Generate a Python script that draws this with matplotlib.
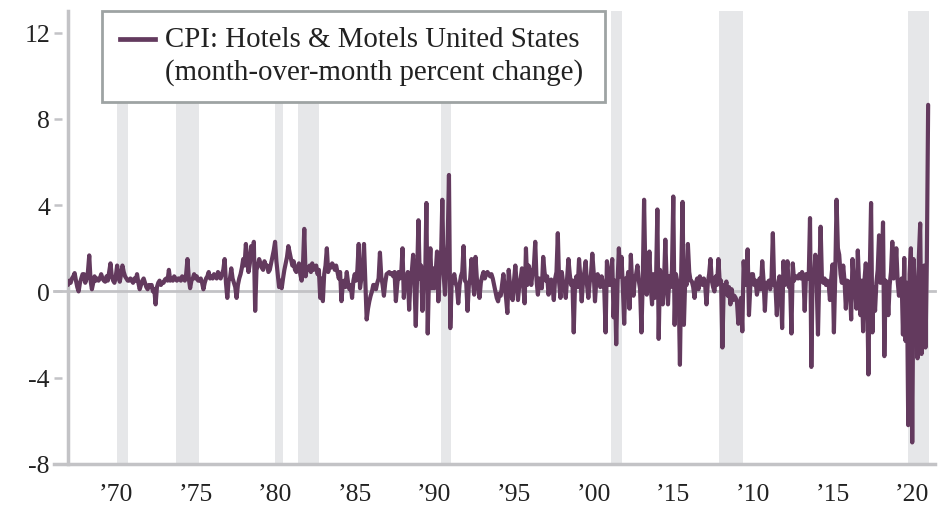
import numpy as np
import matplotlib.pyplot as plt
from matplotlib.patches import Rectangle
from matplotlib.lines import Line2D

plt.rcParams['font.family'] = ['Liberation Serif', 'DejaVu Serif']

# monthly % change, CPI hotels & motels, starting Jan 1967
mom_1960s = [
    0.3, 0.5, 0.4, 0.6, 0.7, 0.85, 0.5, 0.2, 0.0, 0.4, 0.6, 0.8,
    0.8, 0.4, 0.6, 0.9, 1.67, 0.5, 0.1, 0.4, 0.7, 0.5, 0.6, 0.5,
    0.6, 0.8, 0.6, 0.5, 0.45, 0.7, 0.5, 0.9, 1.3, 0.7, 0.5, 0.4,
]
mom_1970s = [
    0.7, 1.2, 0.7, 0.45, 0.8, 1.2, 0.9, 0.7, 0.6, 0.5, 0.5, 0.6,
    0.5, 0.4, 0.6, 0.5, 0.8, 0.4, 0.1, 0.3, 0.5, 0.6, 0.4, 0.2,
    0.1, 0.3, 0.2, 0.3, 0.0, 0.1, -0.6, 0.2, 0.4, 0.5, 0.3, 0.4,
    0.4, 0.55, 0.6, 0.5, 1.0, 0.5, 0.6, 0.5, 0.7, 0.6, 0.5, 0.6,
    0.6, 0.5, 0.7, 0.6, 0.5, 0.8, 1.5, 0.6, 0.15, 0.5, 0.6, 0.8,
    0.6, 0.7, 0.5, 0.5, 0.6, 0.4, 0.1, 0.4, 0.6, 0.7, 0.9, 0.6,
    0.7, 0.6, 0.8, 0.7, 0.6, 0.9, 0.7, 0.6, 0.8, 1.0, 1.5, 0.4,
    -0.3, 0.5, 0.6, 1.07, 0.6, 0.4, 0.2, -0.3, 0.3, 0.6, 0.8, 1.1,
    1.5, 1.2, 2.2, 1.4, 0.9, 1.3, 2.1, 1.6, 2.3, -0.9, 1.0, 1.2,
    1.5, 1.3, 1.1, 1.0, 1.4, 1.2, 1.2, 0.9, 1.0, 1.3, 1.6, 1.9,
]
mom_1980s = [
    2.3, 1.4, 0.8, 0.2, 0.5, 0.15, 0.6, 1.0, 1.3, 1.6, 2.1, 1.8,
    1.5, 1.2, 1.4, 1.0, 0.9, 1.1, 1.3, 0.8, 0.5, 1.2, 2.9, 0.7,
    1.1, 1.0, 1.2, 0.9, 1.3, 1.0, 1.1, 1.2, 0.8, 1.0, -0.3, 0.6,
    -0.45, 0.8, 1.2, 2.0, 0.9, 1.2, 1.1, 1.3, 1.2, 1.0, 1.2, 0.9,
    0.6, 0.9, -0.45, 0.3, 0.5, 0.2, 0.9, 0.4, 0.1, 0.3, -0.3, 0.5,
    0.8, 0.5, 1.0, 2.2, 0.15, 0.6, 0.9, 2.2, 0.4, -1.3, -0.8, -0.46,
    -0.2, 0.0, 0.3, 0.3, 0.1, 0.4, 0.6, 1.8, 0.7, 0.3, -0.2, 0.4,
    0.8, 0.85, 0.9, 0.8, 0.85, 0.7, 0.9, -0.45, 0.3, 0.9, 0.6, 0.8,
    2.0, -0.3, 0.6, 0.4, 0.9, -0.85, 0.5, 0.9, 1.7, 0.4, -1.6, 0.7,
    3.3, 0.6, 1.2, -0.9, 1.0, 0.3, 4.1, -1.95, 0.8, 2.0, 0.15, 1.07,
]
mom_1990s = [
    0.15, 0.9, 1.85, -0.46, 1.0, 1.5, 4.25, 0.8, -0.15, 1.2, 2.2, 5.4,
    -1.7, 0.3, 0.5, 0.8, 0.4, 0.2, -0.55, 0.3, 0.7, 0.9, 2.1, 0.5,
    0.4, -0.9, 0.3, 0.6, 1.5, 0.5, -0.15, 1.6, 0.6, 0.2, -0.3, 0.4,
    0.7, 0.9, 0.6, 0.8, 0.9, 0.8, 0.7, 0.8, 0.6, 0.3, 0.0, -0.3,
    -0.46, -0.1, -0.2, 0.3, 0.8, 0.2, -0.3, -1.0, 1.0, 0.3, -0.2, -0.4,
    0.5, 1.2, 0.4, -0.4, 0.3, 0.6, 1.07, 0.2, -0.55, 2.0, 0.3, 1.2,
    0.8, 0.3, 0.9, 1.2, 2.3, 0.5, -0.15, 0.6, 0.3, 0.15, 1.6, 0.9,
    0.5, 0.7, -0.15, 0.3, 0.55, 0.2, -0.4, 0.6, 0.9, 2.7, 0.4, -0.3,
    0.9, 0.4, 0.2, -0.3, 0.6, 1.5, 0.8, 0.3, 0.5, -1.9, 0.4, 0.7,
    0.2, 1.5, 0.6, -0.46, 0.5, 0.9, 1.4, 0.3, -0.3, 0.4, 0.8, 1.75,
]
mom_2000s = [
    0.9, -0.46, 0.5, 0.8, 0.46, 0.2, 0.7, 0.4, 0.1, -1.9, 1.4, 0.6,
    0.3, 0.8, 1.5, -1.2, 0.5, -2.45, 0.4, 2.0, 0.7, 1.6, 0.2, -1.5,
    0.6, 0.3, 0.9, -0.8, 1.7, 0.4, -0.2, 0.6, 0.8, 1.2, 0.5, 0.1,
    -1.9, 0.5, 4.25, 0.7, -0.15, 0.4, 1.85, 0.2, -0.6, 0.8, -0.3, 0.5,
    3.8, -2.2, 1.0, 0.3, -0.6, 0.4, 2.4, 0.5, -0.6, 0.7, 0.2, 1.0,
    4.4, -1.55, 0.8, 0.46, 0.2, -3.4, 1.0, 4.15, -1.55, 0.6, 0.3, 2.2,
    0.9, 0.5, 0.46, 0.2, -0.3, 0.4, 0.6, 0.1, 0.7, 0.5, 0.3, 0.6,
    0.3, -0.6, 0.4, 0.8, 1.5, 0.5, 0.2, 0.0, 0.7, 0.3, 1.5, 0.4,
    0.5, -2.6, 0.3, 0.1, 0.46, -0.2, 0.2, -0.6, 0.1, -0.4, -0.2, -0.3,
    -0.5, -1.5, -0.6, -0.3, -1.85, 1.4, 0.4, 0.3, 1.95, -1.1, 0.2, 0.8,
]
mom_2010s = [
    0.8, 0.3, 0.5, -0.15, 0.2, 0.6, 0.1, 1.4, 0.5, -0.9, 0.4, 0.2,
    0.5, 0.1, 0.6, 2.7, 0.3, 0.2, -1.1, 0.4, 0.7, 0.1, -1.7, 1.4,
    0.3, 0.6, 1.4, 0.2, 0.4, -1.95, 1.3, 0.5, 0.7, 0.7, 0.6, 0.8,
    0.6, 0.9, 0.7, -0.9, 0.8, 0.7, 0.6, 3.4, -3.5, 0.9, 0.5, 1.7,
    0.4, -2.0, 0.8, 3.0, 0.5, 0.4, 0.6, 0.3, 0.5, 0.4, -0.4, 0.6,
    1.25, -1.9, 0.7, 4.25, 2.0, 1.7, 0.8, 0.4, 1.2, 0.5, -0.8, 0.5,
    0.46, 0.2, -1.3, 1.5, 0.4, 0.1, -0.8, 1.9, 0.3, -1.1, 0.5, -1.85,
    0.5, 1.3, 0.3, -3.85, 0.8, 4.1, -1.9, 0.2, -0.9, 0.4, 1.0, 2.6,
    0.4, 1.0, 3.2, -3.0, 0.5, 0.2, -1.1, 0.3, 0.9, 2.3, 0.6, 0.8,
    2.0, 0.5, -0.2, 0.3, 0.6, -2.0, 1.55, -2.3, 0.4, -6.2, 0.8, 2.0,
]
mom_2020s = [
    -7.0, 1.5, 0.3, -1.1, -3.1, 1.6, 3.15, -2.9, -1.0, 1.2, -2.6, 1.4,
    8.65,
]

# recession bands (decimal years)
rec_start = [1970.07, 1973.78, 1979.99, 1981.43, 1990.40, 2001.07, 2007.84, 2019.76]
rec_end = [1970.76, 1975.22, 1980.49, 1982.75, 1991.03, 2001.76, 2009.35, 2021.08]

tick_years = [1970, 1975, 1980, 1985, 1990, 1995, 2000, 2005, 2010, 2015, 2020]
tick_labels = ['\u201970', '\u201975', '\u201980', '\u201985', '\u201990', '\u201995',
               '\u201900', '\u201915', '\u201910', '\u201915', '\u201920']
y_ticks = [-8, -4, 0, 4, 8, 12]
y_labels = ['-8', '-4', '0', '4', '8', '12']

LINE_COLOR = '#633a5e'
BAND_COLOR = '#e6e7e9'
AXIS_GRAY = '#c3c3c6'
BOX_GRAY = '#9ea3a3'
TEXT_COLOR = '#222222'

W, H = 943, 510


def main():
    values = np.array(mom_1960s + mom_1970s + mom_1980s + mom_1990s
                      + mom_2000s + mom_2010s + mom_2020s)
    dates = 1967 + np.arange(len(values)) / 12.0

    fig = plt.figure(figsize=(W / 100, H / 100), dpi=100)
    ax = fig.add_axes([68 / W, 45 / H, (935 - 68) / W, (465 - 12) / H])

    for s, e in zip(rec_start, rec_end):
        ax.axvspan(s, e, color=BAND_COLOR, lw=0, zorder=0)

    ext = -14 / (935 - 68)
    ax.axhline(0, xmin=ext, xmax=1, color=AXIS_GRAY, lw=2, zorder=1, clip_on=False)
    ax.axhline(-8, xmin=ext, xmax=1, color=AXIS_GRAY, lw=2.5, zorder=1, clip_on=False)
    ax.axvline(1967.0, color=AXIS_GRAY, lw=2.5, zorder=1, clip_on=False)

    ax.plot(dates, values, color=LINE_COLOR, lw=3.0, zorder=3,
            solid_joinstyle='round', solid_capstyle='round')

    ax.set_xlim(1967.0, 2021.43)
    ax.set_ylim(-8, 13)

    for side in ['top', 'right', 'bottom', 'left']:
        ax.spines[side].set_visible(False)
    ax.spines['left'].set_position(('outward', 4.3))

    ax.set_yticks(y_ticks)
    ax.set_yticklabels(y_labels)
    ax.tick_params(axis='y', length=5.8, width=1.8, color=AXIS_GRAY,
                   pad=2.9, labelsize=18.5, labelcolor=TEXT_COLOR)
    ax.set_xticks(tick_years)
    ax.set_xticklabels(tick_labels)
    ax.tick_params(axis='x', length=0, pad=14, labelsize=18.5, labelcolor=TEXT_COLOR)

    # legend box drawn by hand so the handle sits on the first line
    box = Rectangle((102 / W, 1 - 103 / H), 503 / W, 91 / H, transform=fig.transFigure,
                    facecolor='white', edgecolor=BOX_GRAY, lw=2, zorder=10, clip_on=False)
    ax.add_patch(box)
    ax.add_line(Line2D([120 / W, 155 / W], [1 - 40 / H, 1 - 40 / H], transform=fig.transFigure,
                       color=LINE_COLOR, lw=3.4, zorder=11, clip_on=False))
    fig.text(165 / W, 1 - 40 / H, 'CPI: Hotels & Motels United States',
             fontsize=20.8, color=TEXT_COLOR, va='center', ha='left', zorder=11)
    fig.text(165 / W, 1 - 73 / H, '(month-over-month percent change)',
             fontsize=20.8, color=TEXT_COLOR, va='center', ha='left', zorder=11)

    fig.savefig('out.png', dpi=100)


if __name__ == "__main__":
    main()
